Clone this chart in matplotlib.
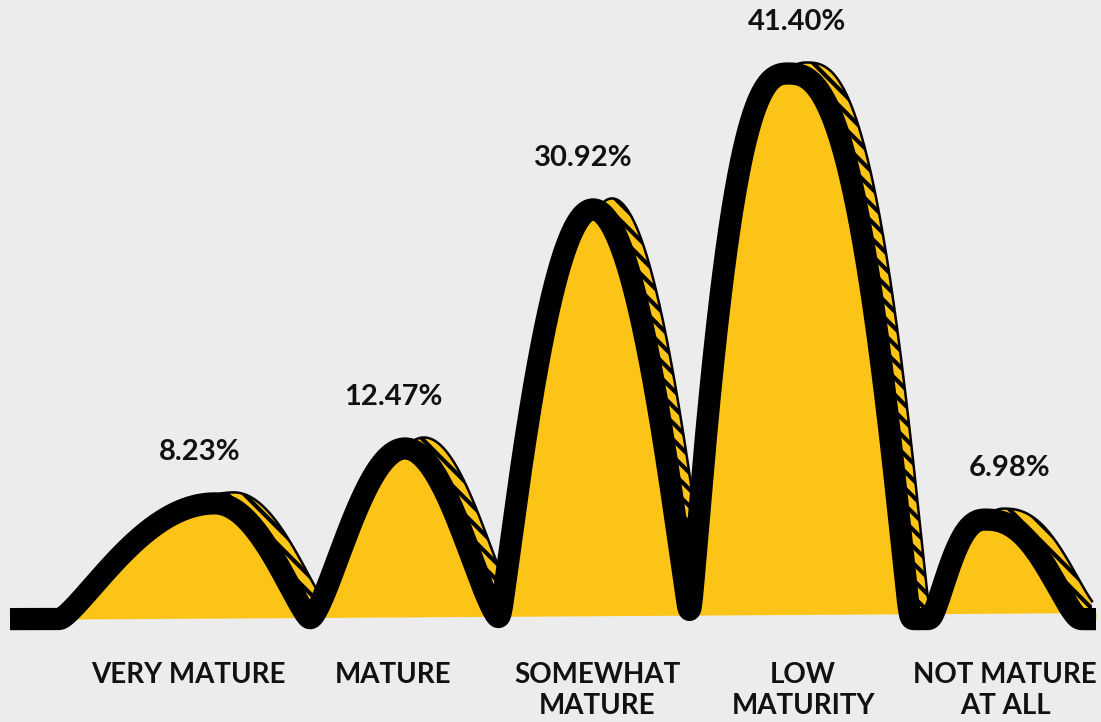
import numpy as np
import matplotlib.pyplot as plt

labels = ["VERY MATURE", "MATURE", "SOMEWHAT\nMATURE", "LOW\nMATURITY", "NOT MATURE\nAT ALL"]
values = [8.23, 12.47, 30.92, 41.40, 6.98]

# horizontal layout of the humps (canvas units, 0..1101)
hump_start = [60, 310, 500, 690, 930]
hump_peak = [215, 405, 593, 788, 985]
hump_end = [310, 500, 690, 910, 1080]
# hump profile: f(t) = (1 - (1 - t)^n)^a, t = 0 at the foot, 1 at the top
hump_n = [2.0, 2.0, 2.0, 2.6, 2.4]
hump_a = [1.3, 1.5, 1.1, 1.1, 1.5]
pct_x = [200, 393, 583, 797, 1010]
name_x = [188, 393, 597, 803, 1005]

YELLOW = "#fdc418"
BG = "#ececec"
FLOOR = -0.7  # line level between humps, a bit under the fill edge


def rise(t, n, a):
    return (1 - (1 - t) ** n) ** a


# one hump per category on an even grid
step = 0.5
xs = np.arange(10, 1096 + step, step)
ys = np.full(xs.shape, FLOOR)
for i, v in enumerate(values):
    s, p, e = hump_start[i], hump_peak[i], hump_end[i]
    up = (xs >= s) & (xs <= p)
    dn = (xs > p) & (xs <= e)
    ys[up] = FLOOR + (v - FLOOR) * rise((xs[up] - s) / (p - s), hump_n[i], hump_a[i])
    ys[dn] = FLOOR + (v - FLOOR) * rise((e - xs[dn]) / (e - p), hump_n[i], hump_a[i])

# light smoothing so the joins don't kink
sig = 1.5 / step
kx = np.arange(-4 * sig, 4 * sig + 1)
kern = np.exp(-0.5 * (kx / sig) ** 2)
kern /= kern.sum()
pad = len(kx) // 2
ys = np.convolve(np.pad(ys, pad, mode="edge"), kern, mode="valid")

fig = plt.figure(figsize=(11.01, 7.22), dpi=100)
fig.patch.set_facecolor(BG)
ax = fig.add_axes([0, 0, 1, 1])
ax.set_facecolor(BG)
ax.set_xlim(0, 1101)
ax.set_ylim(-8.64, 47.07)
ax.axis("off")

px = 12.96  # pixels per percent point

# offset shadow with little hatch ticks
plt.rcParams["hatch.linewidth"] = 3
dx, dy = 19, 11 / px
xg = np.linspace(hump_start[0] + dx, 1092, 2000)
yg = np.interp(xg - dx, xs, ys) + dy
ax.fill_between(xg, yg, 0, facecolor=YELLOW, edgecolor="black", hatch="\\\\", linewidth=0, zorder=1)
ax.plot(xg, yg, color="black", lw=1.8, zorder=2)

# main yellow area and thick outline
m = xs >= hump_start[0]
base = np.interp(xs[m], [hump_start[0], 1095], [-0.7, -0.2])
ax.fill_between(xs[m], ys[m], base, color=YELLOW, linewidth=0, zorder=3)
ax.plot(xs, ys, color="black", lw=16, solid_capstyle="butt", solid_joinstyle="round", zorder=4)

font = "Lato"
for i, v in enumerate(values):
    ax.annotate(f"{v:.2f}%", (pct_x[i], v), xytext=(0, 37), textcoords="offset points",
                ha="center", va="center", fontsize=21, fontweight="bold",
                family=font, color="#111111")

for i, lab in enumerate(labels):
    ax.text(name_x[i], 0.083, lab, transform=ax.get_xaxis_transform(), ha="center", va="top",
            fontsize=20, fontweight="bold", family=font, color="#111111", linespacing=1.25)

fig.savefig("out.png", dpi=100, facecolor=BG)
